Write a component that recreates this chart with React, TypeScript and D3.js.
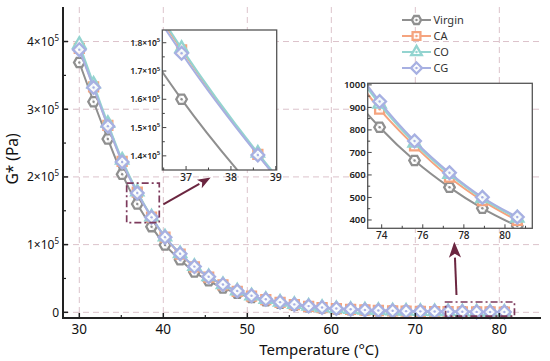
import * as d3 from "d3";

// Complex modulus vs temperature for virgin and modified binders.
const TEMPS = [
  30.0, 31.7, 33.4, 35.1, 36.9, 38.6, 40.2, 42.0, 43.7, 45.4, 47.1, 48.8, 50.5, 52.2, 53.9, 55.6,
  57.3, 58.9, 60.6, 62.3, 64.0, 65.6, 67.3, 68.9, 70.6, 72.3, 73.9, 75.6, 77.3, 78.9, 80.6,
];
const VIRGIN = [
  369000, 311000, 256000, 204000, 160000, 126500, 99500, 77500, 59500, 46500, 36000, 28000, 21800,
  17000, 13300, 10400, 8100, 6350, 4950, 3900, 3050, 2400, 1900, 1500, 1200, 980, 812, 664, 545,
  452, 373,
];
const CA = [
  390000, 333000, 276000, 223000, 177500, 140500, 111000, 86000, 67000, 52000, 40500, 31000, 24000,
  18800, 14600, 11400, 8900, 7000, 5450, 4300, 3380, 2680, 2120, 1690, 1350, 1090, 892, 729, 590,
  486, 398,
];
const CO = [
  396000, 337000, 279000, 225000, 178000, 141000, 111500, 86800, 67800, 52700, 41100, 31600, 24500,
  19200, 15000, 11700, 9150, 7150, 5600, 4420, 3480, 2760, 2180, 1740, 1390, 1120, 915, 742, 603,
  495, 408,
];
const CG = [
  388000, 332000, 275000, 222000, 176300, 140300, 111000, 86500, 67500, 52500, 41000, 31500, 24500,
  19200, 15000, 11700, 9200, 7200, 5650, 4450, 3500, 2780, 2200, 1750, 1400, 1130, 926, 751, 610,
  501, 413,
];

const SERIES = [
  { name: "Virgin", values: VIRGIN, color: "#8f8f8f", kind: "hex" },
  { name: "CA", values: CA, color: "#f5a47f", kind: "square" },
  { name: "CO", values: CO, color: "#94d4d0", kind: "triangle" },
  { name: "CG", values: CG, color: "#a7b0e2", kind: "diamond" },
];

const X_TICKS = [30, 40, 50, 60, 70, 80];
const X_MINOR = [35, 45, 55, 65, 75];
const Y_TICKS = [0, 100000, 200000, 300000, 400000];
const Y_MINOR = [50000, 150000, 250000, 350000];

const IN1_X_TICKS = [37, 38, 39];
const IN1_X_MINOR = [36.5, 37.5, 38.5];
const IN1_Y_TICKS = [140000, 150000, 160000, 170000, 180000];
const IN1_Y_MINOR = [145000, 155000, 165000, 175000];

const IN2_X_TICKS = [74, 76, 78, 80];
const IN2_X_MINOR = [75, 77, 79, 81];
const IN2_Y_TICKS = [400, 500, 600, 700, 800, 900, 1000];
const IN2_Y_MINOR = [450, 550, 650, 750, 850, 950];

// zoom windows in main-chart data units
const ZOOM1 = { t0: 35.64, t1: 39.52, v0: 132400, v1: 190700 };
const ZOOM2 = { t0: 73.6, t1: 81.8, v0: -5500, v1: 15200 };
const ARROW1 = { t0: 40.0, v0: 159600, t1: 45.64, v1: 199000 };
const ARROW2 = { t0: 74.9, v0: 25600, t1: 74.64, v1: 104400 };

const FONT = "'Noto Sans', 'Open Sans', sans-serif";
const GRID = "#dcc3cb";
const AXIS = "#222";

function markerPath(kind: string, s: number) {
  if (kind === "hex") {
    const pts = d3.range(6).map((i) => [s * Math.cos((i * Math.PI) / 3), s * Math.sin((i * Math.PI) / 3)] as [number, number]);
    return d3.line()(pts) + "Z";
  }
  if (kind === "square") {
    const h = s * 0.85;
    return `M${-h},${-h}H${h}V${h}H${-h}Z`;
  }
  if (kind === "triangle") {
    return d3.symbol(d3.symbolTriangle, s * s * 2.3)()!;
  }
  const h = s * 1.2;
  return `M0,${-h}L${h},0L0,${h}L${-h},0Z`;
}

function Marker({ kind, x, y, color, s = 5.3 }: { kind: string; x: number; y: number; color: string; s?: number }) {
  return (
    <g transform={`translate(${x},${y})`}>
      <path d={markerPath(kind, s)} fill="#fff" fillOpacity={0.85} stroke={color} strokeWidth={2.3} />
      <circle r={1.2} fill={color} />
    </g>
  );
}

function SeriesLayer({ x, y, clip }: { x: d3.ScaleLinear<number, number>; y: d3.ScaleLinear<number, number>; clip?: string }) {
  const line = d3
    .line<number>()
    .x((_, i) => x(TEMPS[i]))
    .y((v) => y(v))
    .curve(d3.curveMonotoneX);
  return (
    <g clipPath={clip ? `url(#${clip})` : undefined}>
      {SERIES.map((s) => (
        <g key={s.name}>
          <path d={line(s.values)!} fill="none" stroke={s.color} strokeWidth={2} />
          {s.values.map((v, i) => (
            <Marker key={i} kind={s.kind} x={x(TEMPS[i])} y={y(v)} color={s.color} />
          ))}
        </g>
      ))}
    </g>
  );
}

function sci(v: number) {
  if (v === 0) return null;
  const e = Math.floor(Math.log10(v));
  const m = +(v / 10 ** e).toFixed(1);
  return { m: String(m), e: String(e) };
}

function Inset({
  id, x, y, xTicks, xMinor, yTicks, yMinor, yLabel, yFont, xFont,
}: {
  id: string;
  x: d3.ScaleLinear<number, number>;
  y: d3.ScaleLinear<number, number>;
  xTicks: number[]; xMinor: number[]; yTicks: number[]; yMinor: number[];
  yLabel: (v: number) => any; yFont: number; xFont: number;
}) {
  const [x0, x1] = x.range();
  const [y1, y0] = y.range();
  return (
    <g>
      <defs>
        <clipPath id={id}>
          <rect x={x0} y={y0} width={x1 - x0} height={y1 - y0} />
        </clipPath>
      </defs>
      <rect x={x0} y={y0} width={x1 - x0} height={y1 - y0} fill="#fff" />
      <SeriesLayer x={x} y={y} clip={id} />
      <rect x={x0} y={y0} width={x1 - x0} height={y1 - y0} fill="none" stroke="#555" strokeWidth={1.3} />
      {xTicks.map((t) => (
        <g key={t}>
          <line x1={x(t)} x2={x(t)} y1={y1} y2={y1 - 4} stroke="#444" strokeWidth={1} />
          <text x={x(t)} y={y1 + xFont + 0.5} textAnchor="middle" fontSize={xFont} fill="#222" fontWeight={500}>
            {t}
          </text>
        </g>
      ))}
      {xMinor.filter((t) => x(t) > x0 && x(t) < x1).map((t) => (
        <line key={t} x1={x(t)} x2={x(t)} y1={y1} y2={y1 - 2.5} stroke="#444" strokeWidth={1} />
      ))}
      {yTicks.map((v) => (
        <g key={v}>
          <line x1={x0} x2={x0 + 4} y1={y(v)} y2={y(v)} stroke="#444" strokeWidth={1} />
          <text x={x0 - 2} y={y(v) + yFont * 0.36} textAnchor="end" fontSize={yFont} fill="#222" fontWeight={600}>
            {yLabel(v)}
          </text>
        </g>
      ))}
      {yMinor.map((v) => (
        <line key={v} x1={x0} x2={x0 + 2.5} y1={y(v)} y2={y(v)} stroke="#444" strokeWidth={1} />
      ))}
    </g>
  );
}

export default function App() {
  const W = 550;
  const H = 361;
  const x = d3.scaleLinear().domain([28.06, 84.96]).range([63, 541]);
  const y = d3.scaleLinear().domain([-8400, 451000]).range([318, 7]);

  const x1 = d3.scaleLinear().domain([36.47, 39.02]).range([162.3, 276.7]);
  const y1 = d3.scaleLinear().domain([135000, 184500]).range([170, 30]);
  const x2 = d3.scaleLinear().domain([73.32, 81.33]).range([367.7, 532.3]);
  const y2 = d3.scaleLinear().domain([363, 1007]).range([228.3, 83.3]);

  const [left, right] = x.range();
  const [bottom, top] = y.range();
  const boxColor = "#7d3a5c";
  const arrowColor = "#6b2640";

  const arrow = (a: { t0: number; v0: number; t1: number; v1: number }, head: number) => {
    const sx = x(a.t0), sy = y(a.v0), ex = x(a.t1), ey = y(a.v1);
    const ang = Math.atan2(ey - sy, ex - sx);
    const bx = ex - head * Math.cos(ang), by = ey - head * Math.sin(ang);
    const w = head * 0.38;
    const px = -Math.sin(ang) * w, py = Math.cos(ang) * w;
    return (
      <g>
        <line x1={sx} y1={sy} x2={bx} y2={by} stroke={arrowColor} strokeWidth={2} />
        <path d={`M${ex},${ey}L${bx + px},${by + py}L${bx + head * 0.25 * Math.cos(ang)},${by + head * 0.25 * Math.sin(ang)}L${bx - px},${by - py}Z`} fill={arrowColor} />
      </g>
    );
  };

  const mainYLabel = (v: number) => {
    const s = sci(v);
    if (!s) return "0";
    return (
      <>
        {s.m}×10<tspan dy={-5} fontSize={8}>{s.e}</tspan>
      </>
    );
  };
  const in1YLabel = (v: number) => {
    const s = sci(v)!;
    return (
      <>
        {s.m}×10<tspan dy={-3.5} fontSize={6}>{s.e}</tspan>
      </>
    );
  };

  return (
    <svg width={W} height={H} style={{ position: "absolute", left: 0, top: 0, background: "#fff" }} fontFamily={FONT}>
      <rect width={W} height={H} fill="#fff" />
      {/* grid */}
      {X_TICKS.map((t) => (
        <line key={t} x1={x(t)} x2={x(t)} y1={top} y2={bottom} stroke={GRID} strokeWidth={1} strokeDasharray="6,4" />
      ))}
      {Y_TICKS.map((v) => (
        <line key={v} x1={left} x2={right} y1={y(v)} y2={y(v)} stroke={GRID} strokeWidth={1} strokeDasharray="6,4" />
      ))}

      <SeriesLayer x={x} y={y} />

      {/* zoom boxes */}
      {[ZOOM1, ZOOM2].map((z, i) => (
        <rect
          key={i}
          x={x(z.t0)}
          y={y(z.v1)}
          width={x(z.t1) - x(z.t0)}
          height={y(z.v0) - y(z.v1)}
          fill="none"
          stroke={boxColor}
          strokeWidth={1.7}
          strokeDasharray="7,3,2,3"
        />
      ))}
      {arrow(ARROW1, 13)}
      {arrow(ARROW2, 16)}

      <Inset id="in1" x={x1} y={y1} xTicks={IN1_X_TICKS} xMinor={IN1_X_MINOR} yTicks={IN1_Y_TICKS} yMinor={IN1_Y_MINOR} yLabel={in1YLabel} yFont={8.5} xFont={10.5} />
      <Inset id="in2" x={x2} y={y2} xTicks={IN2_X_TICKS} xMinor={IN2_X_MINOR} yTicks={IN2_Y_TICKS} yMinor={IN2_Y_MINOR} yLabel={(v) => String(v)} yFont={9.5} xFont={10} />

      {/* axes */}
      <line x1={left} x2={right} y1={bottom} y2={bottom} stroke={AXIS} strokeWidth={2} />
      <line x1={left} x2={left} y1={top} y2={bottom + 1} stroke={AXIS} strokeWidth={2} />
      {X_TICKS.map((t) => (
        <g key={t}>
          <line x1={x(t)} x2={x(t)} y1={bottom} y2={bottom - 5} stroke={AXIS} strokeWidth={1.5} />
          <text x={x(t)} y={bottom + 16} textAnchor="middle" fontSize={13.5} fill="#111">
            {t}
          </text>
        </g>
      ))}
      {X_MINOR.map((t) => (
        <line key={t} x1={x(t)} x2={x(t)} y1={bottom} y2={bottom - 3} stroke={AXIS} strokeWidth={1.2} />
      ))}
      {Y_TICKS.map((v) => (
        <g key={v}>
          <line x1={left} x2={left + 5} y1={y(v)} y2={y(v)} stroke={AXIS} strokeWidth={1.5} />
          <text x={left - 4} y={y(v) + 4.5} textAnchor="end" fontSize={12} fill="#111">
            {mainYLabel(v)}
          </text>
        </g>
      ))}
      {Y_MINOR.map((v) => (
        <line key={v} x1={left} x2={left + 3} y1={y(v)} y2={y(v)} stroke={AXIS} strokeWidth={1.2} />
      ))}
      <text x={(left + right) / 2 + 17} y={355} textAnchor="middle" fontSize={15} fill="#111">
        Temperature (°C)
      </text>
      <text transform={`translate(18,159) rotate(-90)`} textAnchor="middle" fontSize={15.5} fill="#111">
        G* (Pa)
      </text>

      {/* legend */}
      {SERIES.map((s, i) => {
        const ly = 20 + i * 16;
        return (
          <g key={s.name}>
            <line x1={402} x2={431} y1={ly} y2={ly} stroke={s.color} strokeWidth={2} />
            <Marker kind={s.kind} x={416.5} y={ly} color={s.color} s={4.6} />
            <text x={433.5} y={ly + 4} fontSize={11} fill="#333">
              {s.name}
            </text>
          </g>
        );
      })}
    </svg>
  );
}
